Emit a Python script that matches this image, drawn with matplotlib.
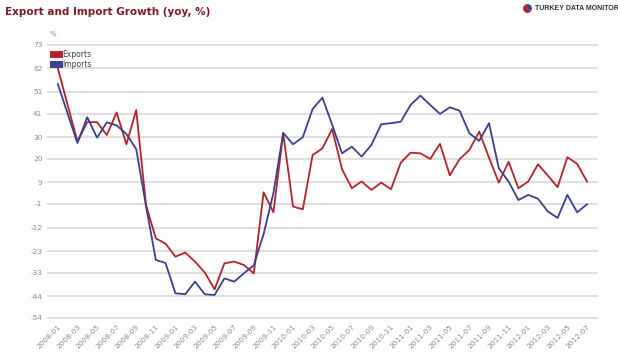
import matplotlib
matplotlib.use("Agg")
import matplotlib.pyplot as plt

months = ["%d-%02d" % (y, m) for y in range(2008, 2013) for m in range(1, 13)][:55]

exports = [62, 45, 28, 37, 37, 31, 41.5, 26.7, 42.6, -1.5,
           -17, -19.5, -25.5, -23.6, -27.8, -32.9, -40.7, -28.6, -27.8, -29.4,
           -33.3, 4.4, -4.9, 31.8, -2.2, -3.5, 21.7, 24.8, 33.8, 15.1,
           6.3, 9.4, 5.5, 8.9, 5.8, 18.2, 22.8, 22.5, 19.9, 26.9,
           12.3, 19.8, 24.1, 32.6, 20.5, 8.9, 18.6, 6.3, 9.4, 17.4,
           12.2, 6.8, 20.7, 17.6, 9.4]
imports = [54.7, 41, 27.3, 39.3, 29.8, 36.9, 35.5, 31.5, 24.5, -2,
           -27, -28.5, -42.5, -43, -37.1, -43, -43.3, -35.6, -37.1, -33.2,
           -29.5, -15, 4, 32, 26.7, 30, 43.1, 48.4, 35.7, 22.5,
           25.6, 21, 26.4, 36, 36.5, 37.2, 45, 49.3, 45, 40.8,
           43.9, 42.3, 31.8, 28.3, 36.5, 15.6, 9.4, 0.8, 3.2, 1.4,
           -4.5, -7.5, 3.2, -4.9, -1.2]

yticks = [73, 62, 51, 41, 30, 20, 9, -1, -12, -23, -33, -44, -54]

red = "#b5222a"
blue = "#3b3f8f"
grey = "#8a8a8a"

fig = plt.figure(figsize=(6.18, 3.63), dpi=100)
ax = fig.add_axes([0.0777, 0.124, 0.888, 0.753])

x = list(range(len(months)))
ax.plot(x, exports, color=red, lw=1.3, label="Exports", zorder=3)
ax.plot(x, imports, color=blue, lw=1.3, label="Imports", zorder=3)

ax.set_xlim(-1, 55)
ax.set_ylim(-54, 73)
ax.set_yticks(yticks)
ax.set_yticklabels([str(v) for v in yticks])
ax.set_xticks(x[::2])
ax.set_xticklabels(months[::2], rotation=45, ha="right", va="top",
                   rotation_mode="anchor")
ax.tick_params(axis="both", length=0, colors=grey, labelsize=5.3)
ax.tick_params(axis="x", pad=4)
ax.tick_params(axis="y", pad=4)
ax.grid(axis="y", color="#dcdcdc", lw=1.3, clip_on=False)
ax.set_axisbelow(True)
for s in ax.spines.values():
    s.set_visible(False)

leg = ax.legend(loc="upper left", bbox_to_anchor=(0.0, 1.0), frameon=False,
                fontsize=5.5, handlelength=0.8, handleheight=0.8,
                handletextpad=0.4, labelspacing=0.15, borderaxespad=0.3)
for h in leg.legend_handles:
    h.set_linewidth(5)
for t in leg.get_texts():
    t.set_color("#444444")

fig.text(50 / 618, 1 - 34 / 363, "%", fontsize=5, color=grey, ha="left", va="center")
fig.text(5 / 618, 1 - 12 / 363, "Export and Import Growth (yoy, %)",
         fontsize=7.5, fontweight="bold", color="#7d1a2b", ha="left", va="center")

# logo
lax = fig.add_axes([522 / 618, 1 - 14 / 363, 11 / 618, 11 / 363])
lax.pie([60, 40], colors=[red, blue], startangle=110)
lax.set_aspect("equal")
fig.text(535 / 618, 1 - 9 / 363, "TURKEY DATA MONITOR", fontsize=5,
         fontweight="bold", family="Liberation Sans", color="#333333",
         ha="left", va="center")

fig.savefig("out.png", dpi=100, facecolor="white")
